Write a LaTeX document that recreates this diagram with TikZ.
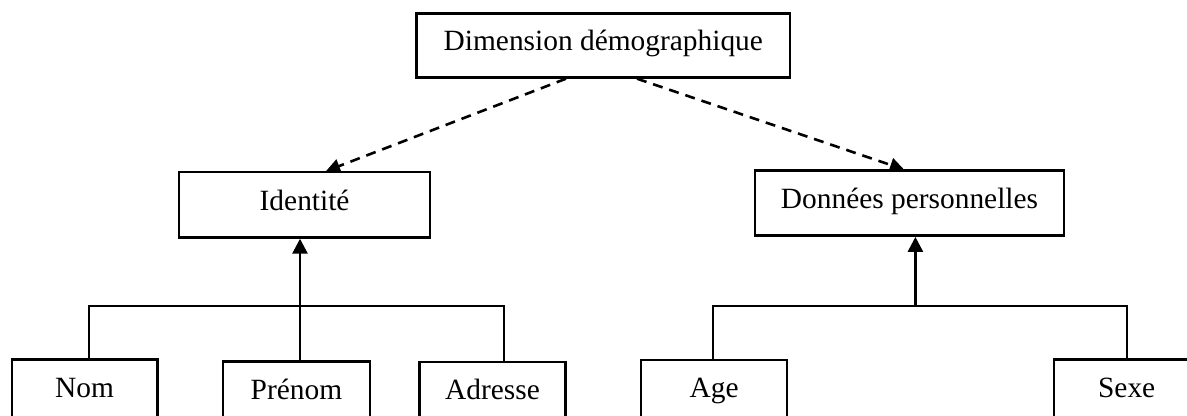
\documentclass[tikz,border=0pt]{standalone}
\usepackage{fontspec}
\setmainfont{Liberation Serif}
\usetikzlibrary{arrows.meta}
\begin{document}
\begin{tikzpicture}[x=0.5pt,y=-0.5pt,
  box/.style={draw, line width=1.2pt, inner sep=0pt, text height=10.3pt, text depth=5.1pt,
    font=\fontsize{14.7pt}{17.5pt}\selectfont},
  dasharrow/.style={line width=1.3pt, dash pattern=on 5pt off 3.5pt,
    -{Triangle[length=7pt,width=7pt]}},
  solidarrow/.style={line width=1.3pt, -{Triangle[length=7.5pt,width=7.5pt]}},
  bus/.style={line width=0.9pt}]
\path[use as bounding box, clip] (0,0) rectangle (1187,416);
% boxes
\node[box, minimum width=186.7pt, minimum height=31.9pt] (top) at (603.3,45.6) {Dimension démographique\hspace{11pt}};
\node[box, minimum width=125.4pt, minimum height=32.6pt] (ident) at (304.6,204.9) {Identité};
\node[box, minimum width=154.5pt, minimum height=32.5pt] (donn) at (909.5,203.2) {Données personnelles};
\node[box, minimum width=72.8pt, minimum height=32.5pt] (nom) at (84.5,391.8) {Nom};
\node[box, minimum width=73.4pt, minimum height=32.5pt] (prenom) at (296.4,394) {Prénom};
\node[box, minimum width=73.1pt, minimum height=32.5pt] (adresse) at (492.5,394.5) {Adresse};
\node[box, minimum width=73.1pt, minimum height=32.5pt] (age) at (714.1,392.2) {Age};
\node[box, minimum width=73pt, minimum height=32.5pt] (sexe) at (1126.7,391.8) {Sexe};
% helper coordinates
\coordinate (dl) at (566,0);
\coordinate (tl) at (326,0);
\coordinate (dr) at (637,0);
\coordinate (tr) at (904,0);
\coordinate (b1) at (89.3,305.7);
\coordinate (lb) at (300,305.7);
\coordinate (b3) at (503.6,305.7);
\coordinate (b4) at (713.3,305.7);
\coordinate (rb) at (915.4,305.7);
\coordinate (b5) at (1127.3,305.7);
% dashed arrows
\draw[dasharrow] (top.south -| dl) -- (ident.north -| tl);
\draw[dasharrow] (top.south -| dr) -- (donn.north -| tr);
% left group
\draw[bus] (nom.north -| b1) -- (b1) -- (b3) -- (adresse.north -| b3);
\draw[bus] (prenom.north -| lb) -- (lb);
\draw[solidarrow] (lb) -- (ident.south -| lb);
% right group
\draw[bus] (age.north -| b4) -- (b4) -- (b5) -- (sexe.north -| b5);
\draw[solidarrow] (rb) -- (donn.south -| rb);
\end{tikzpicture}
\end{document}
